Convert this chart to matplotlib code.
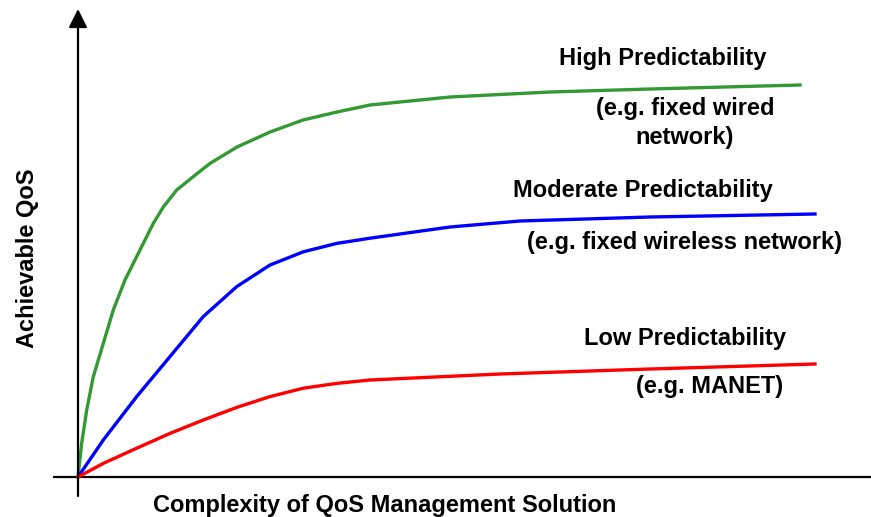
import matplotlib
matplotlib.use("Agg")
import matplotlib.pyplot as plt

plt.rcParams['font.family'] = ['Liberation Sans', 'DejaVu Sans']

# curve data (complexity 0..100, QoS 0..100)
high_x = [0, 0.5, 1.18, 2.07, 3.42, 4.77, 6.35, 8.82, 10.18, 11.53,
          13.34, 15.58, 17.84, 21.49, 25.95, 30.41, 35.0, 39.46, 50.27,
          63.78, 77.3, 97.57]
high_y = [0, 8.5, 16.75, 25.1, 33.4, 41.75, 49.25, 58.4, 63.4, 67.5,
          71.75, 75.1, 78.4, 82.5, 86.25, 89.25, 91.25, 93, 95,
          96.25, 97, 98]

mod_x = [0, 3.42, 7.93, 12.43, 16.93, 21.45, 25.95, 30.45, 34.96, 39.46,
         50.27, 59.73, 77.3, 99.59]
mod_y = [0, 9.25, 20.1, 30.1, 40.1, 47.6, 53, 56.3, 58.4, 59.7,
         62.5, 64, 65, 65.75]

low_x = [0, 3.42, 7.93, 12.43, 16.93, 21.45, 25.95, 30.45, 34.96, 39.46,
         57.03, 77.3, 99.59]
low_y = [0, 3.4, 7.2, 10.9, 14.25, 17.4, 20.1, 22.2, 23.4, 24.25,
         25.75, 27, 28.25]

fig = plt.figure(figsize=(8.71, 5.17), dpi=100)
ax = fig.add_axes([0, 0, 1, 1])
ax.set_xlim(-10.54, 107.16)
ax.set_ylim(-10, 119.25)
ax.axis('off')

# axes
ax.plot([-3.4, 107.2], [0, 0], color='black', lw=1.6, solid_capstyle='butt')
ax.annotate('', xy=(0, 117), xytext=(0, -4.75),
            arrowprops=dict(arrowstyle='-|>,head_length=1.6,head_width=0.8',
                            mutation_scale=7, color='black', lw=1.6,
                            shrinkA=0, shrinkB=0))

ax.plot(high_x, high_y, color='#339933', lw=2.4, solid_joinstyle='round')
ax.plot(mod_x, mod_y, color='#0000ff', lw=2.4, solid_joinstyle='round')
ax.plot(low_x, low_y, color='#ff0000', lw=2.4, solid_joinstyle='round')

fs = 17
kw = dict(fontsize=fs, fontweight='bold', ha='center', va='center')
ax.text(79.05, 104.75, 'High Predictability', **kw)
ax.text(82.0, 88.5, '(e.g. fixed wired\nnetwork)', linespacing=1.3, **kw)
ax.text(76.35, 71.75, 'Moderate Predictability', **kw)
ax.text(81.9, 58.5, '(e.g. fixed wireless network)', **kw)
ax.text(82.0, 34.75, 'Low Predictability', **kw)
ax.text(85.4, 22.5, '(e.g. MANET)', **kw)

fig.text(0.442, 0.023, 'Complexity of QoS Management Solution', **kw)
fig.text(0.032, 0.50, 'Achievable QoS', rotation=90, **kw)

fig.savefig('out.png', dpi=100)
